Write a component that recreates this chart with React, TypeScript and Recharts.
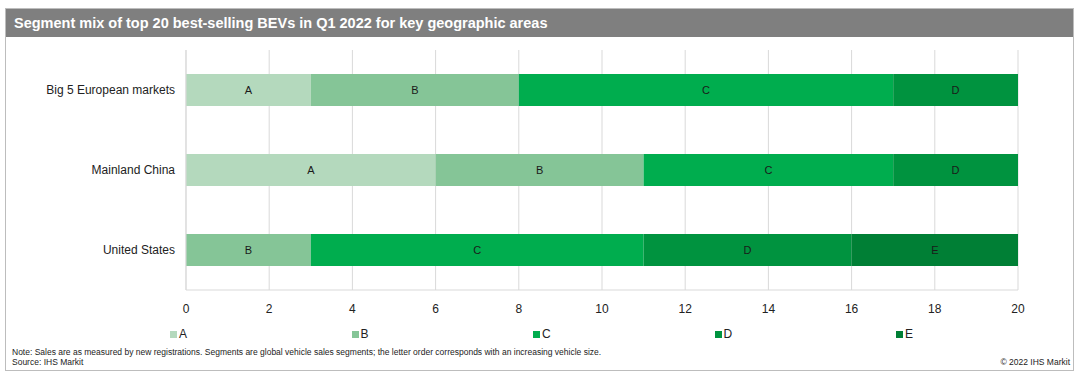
import React from 'react';
import { BarChart, Bar, XAxis, YAxis, CartesianGrid, LabelList } from 'recharts';

const categories = ['Big 5 European markets', 'Mainland China', 'United States'];
const segments = ['A', 'B', 'C', 'D', 'E'];
const segA = [3, 6, 0];
const segB = [5, 5, 3];
const segC = [9, 6, 8];
const segD = [3, 3, 5];
const segE = [0, 0, 4];
const xTicks = [0, 2, 4, 6, 8, 10, 12, 14, 16, 18, 20];
const colors = ['#b4d9bd', '#85c597', '#00ad4e', '#00933f', '#007f35'];

const seriesValues = [segA, segB, segC, segD, segE];
const data = categories.map((name, i) => {
  const row: Record<string, string | number> = { name };
  segments.forEach((s, j) => {
    row[s] = seriesValues[j][i];
  });
  return row;
});

const FONT = '"Liberation Sans", Arial, sans-serif';

export default function App() {
  return (
    <div style={{ position: 'absolute', left: 0, top: 0, width: 1080, height: 380, background: '#fff', fontFamily: FONT, overflow: 'hidden' }}>
      <div style={{ position: 'absolute', left: 5, top: 8, width: 1069, height: 363, border: '1px solid #bdbdbd', boxSizing: 'border-box' }} />
      <div style={{ position: 'absolute', left: 6, top: 9, width: 1067, height: 28, background: '#7f7f7f', color: '#fff', fontWeight: 'bold', fontSize: 14.5, lineHeight: '28px', paddingLeft: 8, boxSizing: 'border-box' }}>
        Segment mix of top 20 best-selling BEVs in Q1 2022 for key geographic areas
      </div>
      <div style={{ position: 'absolute', left: 0, top: 0 }}>
        <BarChart
          width={1060}
          height={330}
          data={data}
          layout="vertical"
          margin={{ top: 50, right: 42, bottom: 10, left: 0 }}
          barSize={32}
        >
          <CartesianGrid horizontal={false} stroke="#d9d9d9" />
          <XAxis
            type="number"
            domain={[0, 20]}
            ticks={xTicks}
            height={30}
            axisLine={{ stroke: '#d9d9d9' }}
            tickLine={false}
            tick={{ fill: '#222', fontSize: 12, fontFamily: FONT }}
            tickMargin={8}
            interval={0}
          />
          <YAxis
            type="category"
            dataKey="name"
            width={186}
            axisLine={{ stroke: '#d9d9d9' }}
            tickLine={false}
            tick={{ fill: '#222', fontSize: 12, fontFamily: FONT }}
            tickMargin={5}
          />
          {segments.map((s, j) => (
            <Bar key={s} dataKey={s} stackId="a" fill={colors[j]} isAnimationActive={false}>
              <LabelList
                dataKey={s}
                position="center"
                fill="#1a1a1a"
                fontSize={11}
                fontFamily={FONT}
                formatter={(v: any) => (Number(v) > 0 ? s : '')}
              />
            </Bar>
          ))}
        </BarChart>
      </div>
      {segments.map((s, j) => (
        <div key={s} style={{ position: 'absolute', left: 170 + j * 181.5, top: 326, height: 16, display: 'flex', alignItems: 'center', fontSize: 12, color: '#222' }}>
          <span style={{ display: 'inline-block', width: 7, height: 7, background: colors[j], marginRight: 2 }} />
          {s}
        </div>
      ))}
      <div style={{ position: 'absolute', left: 12, top: 347, fontSize: 8.5, color: '#222', lineHeight: '10px' }}>
        Note: Sales are as measured by new registrations. Segments are global vehicle sales segments; the letter order corresponds with an increasing vehicle size.
        <br />
        Source: IHS Markit
      </div>
      <div style={{ position: 'absolute', right: 10, top: 357, fontSize: 8.5, color: '#222', lineHeight: '10px' }}>
        © 2022 IHS Markit
      </div>
    </div>
  );
}
